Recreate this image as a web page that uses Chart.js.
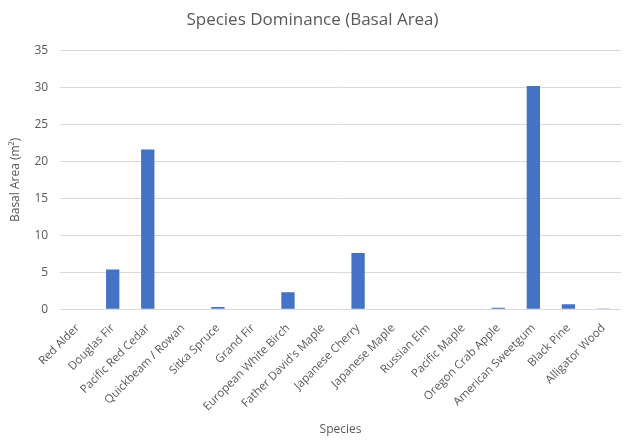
<!DOCTYPE html>
<html>
<head>
<meta charset="utf-8">
<script src="https://cdn.jsdelivr.net/npm/chart.js@4/dist/chart.umd.min.js"></script>
<style>
  html, body { margin: 0; padding: 0; background: #fff; }
  #wrap { width: 629px; height: 441px; }
</style>
</head>
<body>
<div id="wrap"><canvas id="species-chart"></canvas></div>
<script>
const species = ["Red Alder", "Douglas Fir", "Pacific Red Cedar", "Quickbeam / Rowan", "Sitka Spruce", "Grand Fir",
    "European White Birch", "Father David's Maple", "Japanese Cherry", "Japanese Maple", "Russian Elm", "Pacific Maple",
    "Oregon Crab Apple", "American Sweetgum", "Black Pine", "Alligator Wood"];
const basalArea = [0, 5.4, 21.6, 0, 0.3, 0, 2.3, 0, 7.6, 0, 0, 0, 0.2, 30.2, 0.7, 0.1];

const grey = "#595959";
const font = "'Open Sans', 'Liberation Sans', sans-serif";

const data = {
    labels: species,
    datasets: [
        {
            label: "Basal Area",
            data: basalArea,
            backgroundColor: "#4472C4",
            categoryPercentage: 1,
            barPercentage: 0.38,
        },
    ],
};

const config = {
    type: 'bar',
    data: data,
    options: {
        responsive: true,
        maintainAspectRatio: false,
        animation: false,
        layout: { padding: { left: 4, right: 8, top: 8, bottom: 0 } },
        plugins: {
            legend: { display: false },
            tooltip: { enabled: false },
            title: {
                display: true,
                text: "Species Dominance (Basal Area)",
                color: grey,
                font: { family: font, size: 17, weight: 'normal' },
                padding: { top: 2, bottom: 20 },
            },
        },
        scales: {
            x: {
                grid: { display: false },
                border: { display: false },
                ticks: {
                    color: grey,
                    font: { family: font, size: 11.5 },
                    maxRotation: 45,
                    minRotation: 45,
                    autoSkip: false,
                    padding: 4,
                },
                title: {
                    display: true,
                    text: "Species",
                    color: grey,
                    font: { family: font, size: 12 },
                    padding: { top: 5 },
                },
            },
            y: {
                min: 0,
                max: 35,
                grid: { color: "#d9d9d9", drawTicks: false },
                border: { display: false },
                ticks: {
                    stepSize: 5,
                    color: grey,
                    font: { family: font, size: 12 },
                    padding: 12,
                },
                title: {
                    display: true,
                    text: "Basal Area (m²)",
                    color: grey,
                    font: { family: font, size: 12 },
                    padding: { bottom: 0 },
                },
            },
        },
    },
};

const dv = document.getElementById("species-chart");
const speciesChart = new Chart(dv, config);
</script>
</body>
</html>
